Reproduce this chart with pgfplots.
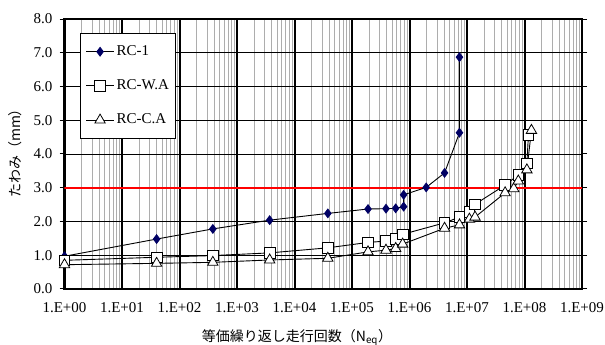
\documentclass[border=0pt]{standalone}
\usepackage{fontspec}
\setmainfont{Liberation Serif}
\newfontfamily\jp{Noto Sans CJK JP}
\usepackage{pgfplots}
\pgfplotsset{compat=1.18}
\definecolor{navy}{RGB}{0,0,100}
\begin{document}
\fontsize{15}{17}\selectfont
\begin{tikzpicture}[x=1pt,y=1pt]
\begin{axis}[
  at={(64.5pt,56pt)}, anchor=south west, scale only axis,
  width=517.5pt, height=270pt,
  xmode=log, xmin=1, xmax=1e9, ymin=0, ymax=8,
  xtick={1,1e1,1e2,1e3,1e4,1e5,1e6,1e7,1e8,1e9},
  xticklabels={1.E+00,1.E+01,1.E+02,1.E+03,1.E+04,1.E+05,1.E+06,1.E+07,1.E+08,1.E+09},
  minor xtick={2,3,4,5,6,7,8,9,
    2e1,3e1,4e1,5e1,6e1,7e1,8e1,9e1,
    2e2,3e2,4e2,5e2,6e2,7e2,8e2,9e2,
    2e3,3e3,4e3,5e3,6e3,7e3,8e3,9e3,
    2e4,3e4,4e4,5e4,6e4,7e4,8e4,9e4,
    2e5,3e5,4e5,5e5,6e5,7e5,8e5,9e5,
    2e6,3e6,4e6,5e6,6e6,7e6,8e6,9e6,
    2e7,3e7,4e7,5e7,6e7,7e7,8e7,9e7,
    2e8,3e8,4e8,5e8,6e8,7e8,8e8,9e8},
  ytick={0,1,2,3,4,5,6,7,8},
  yticklabels={0.0,1.0,2.0,3.0,4.0,5.0,6.0,7.0,8.0},
  grid=both,
  major x grid style={black, line width=2pt},
  minor x grid style={black!32, line width=0.7pt},
  major y grid style={black, line width=0.8pt},
  axis line style={black, line width=2.2pt},
  tick align=outside,
  major tick length=5pt,
  minor tick length=0pt,
  xtick style={draw=none},
  ytick style={black, line width=1pt},
  xticklabel style={yshift=-3pt},
  yticklabel style={xshift=-2pt},
  legend style={at={(axis description cs:0.030,0.948)}, anchor=north west,
    draw=black, line width=1.2pt, fill=white, row sep=18pt,
    inner xsep=5pt, inner ysep=10pt, font=\fontsize{15}{17}\selectfont},
  legend cell align=left,
  legend image code/.code={\draw[mark repeat=2,mark phase=2,#1] plot coordinates {(0pt,0pt)(14pt,0pt)(28pt,0pt)};},
]
\addplot[red, line width=2pt, forget plot] coordinates {(1,3) (1e9,3)};
\addplot[black, line width=0.9pt, mark=diamond*, mark size=4.3pt, mark options={fill=navy, draw=navy, solid}]
 coordinates {(1,0.97) (40,1.48) (380,1.78) (3700,2.04) (38000,2.24) (1.9e5,2.37) (3.9e5,2.38) (5.75e5,2.39) (7.9e5,2.44) (7.9e5,2.79) (1.95e6,3.01) (4.07e6,3.44) (7.4e6,4.63) (7.4e6,6.87)};
\addlegendentry{RC-1}
\addplot[black, line width=0.9pt, mark=square*, mark size=5.3pt, mark options={fill=white, draw=black, line width=0.8pt}]
 coordinates {(1,0.85) (40,0.94) (380,0.99) (3700,1.07) (38000,1.22) (1.9e5,1.38) (3.9e5,1.42) (5.75e5,1.48) (7.6e5,1.62) (4.07e6,1.96) (7.4e6,2.13) (1.1e7,2.29) (1.38e7,2.51) (4.6e7,3.08) (7.8e7,3.38) (1.1e8,3.72) (1.17e8,4.56)};
\addlegendentry{RC-W.A}
\addplot[black, line width=0.9pt, mark=triangle*, mark size=6pt, mark options={fill=white, draw=black, line width=0.8pt}]
 coordinates {(1,0.72) (40,0.76) (380,0.79) (3700,0.86) (38000,0.91) (1.9e5,1.10) (3.9e5,1.15) (5.75e5,1.20) (7.6e5,1.33) (4.07e6,1.80) (7.4e6,1.90) (1.1e7,2.07) (1.38e7,2.13) (4.6e7,2.85) (6.5e7,2.97) (7.8e7,3.20) (1.1e8,3.53) (1.32e8,4.70)};
\addlegendentry{RC-C.A}
\end{axis}
\node[rotate=90] at (15pt,195pt) {\fontsize{14}{16}\jp たわみ（mm）};
\node at (297pt,7pt) {\fontsize{14}{16}\jp 等価繰り返し走行回数（N\textsubscript{eq}）};
\pgfresetboundingbox
\path[use as bounding box] (0,0) rectangle (605pt,345pt);
\end{tikzpicture}
\end{document}
